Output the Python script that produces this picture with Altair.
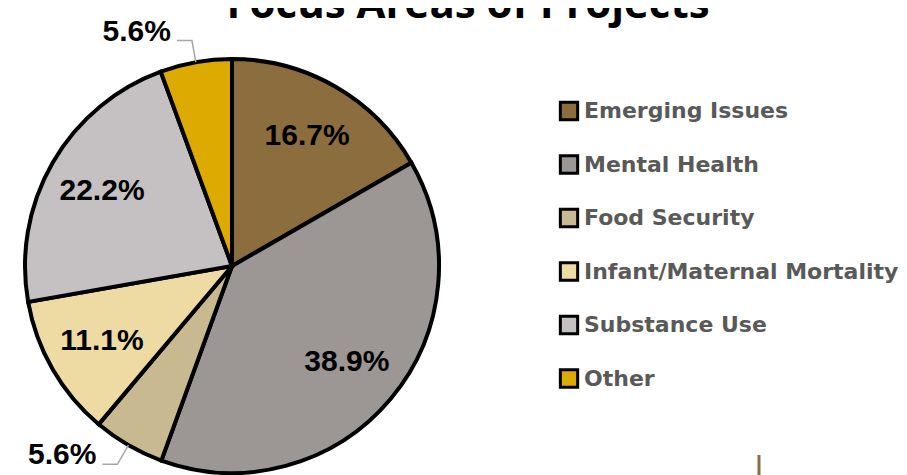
import math
import altair as alt
import pandas as pd

categories = ["Emerging Issues", "Mental Health", "Food Security",
              "Infant/Maternal Mortality", "Substance Use", "Other"]
values = [16.7, 38.9, 5.6, 11.1, 22.2, 5.6]
labels = ["16.7%", "38.9%", "5.6%", "11.1%", "22.2%", "5.6%"]
colors = ["#8B6D3E", "#9C9794", "#C8B990", "#EDDBA3", "#C5C1C2", "#DCAA00"]
title_text = "Focus Areas of Projects"

W, H = 891, 467
CX, CY = 224, 258
R = 207

df = pd.DataFrame({"cat": categories, "val": values, "lab": labels,
                   "idx": list(range(len(values)))})
df["inside"] = df["val"] >= 10

# leader lines for small slices, computed from the values
total = sum(values)
rows_line, rows_out = [], []
cum = 0.0
for c, v, l in zip(categories, values, labels):
    mid = (cum + v / 2) / total * 2 * math.pi
    cum += v
    if v >= 10:
        continue
    sx, sy = CX + R * math.sin(mid), CY - R * math.cos(mid)
    ex, ey = CX + 229 * math.sin(mid), CY - 229 * math.cos(mid)
    d = -1 if math.sin(mid) < 0 else 1
    hx = ex + d * 15
    for k, (px, py) in enumerate([(sx, sy), (ex, ey), (hx, ey)]):
        rows_line.append({"cat": c, "k": k, "px": px, "py": py})
    rows_out.append({"lab": l, "px": hx + d * 6, "py": ey})
lines_df = pd.DataFrame(rows_line)
out_df = pd.DataFrame(rows_out)

color_scale = alt.Scale(domain=categories, range=colors)

base = alt.Chart(df).encode(
    theta=alt.Theta("val:Q", stack=True),
    order=alt.Order("idx:Q"),
)

pie = base.mark_arc(outerRadius=R, stroke="black", strokeWidth=4).encode(
    x=alt.value(CX), y=alt.value(CY),
    color=alt.Color("cat:N", scale=color_scale, sort=categories,
                    legend=alt.Legend(
                        title=None, orient="none", legendX=550, legendY=92,
                        symbolType="square", symbolSize=300,
                        symbolStrokeColor="black", symbolStrokeWidth=3,
                        symbolOpacity=1,
                        labelFont="DejaVu Sans", labelFontSize=22,
                        labelFontWeight="bold", labelColor="#595959",
                        labelOffset=4, rowPadding=23.5, labelLimit=400)),
)

inner = base.mark_text(radius=150, font="Liberation Sans", fontSize=30,
                       fontWeight="bold", color="black").encode(
    x=alt.value(CX), y=alt.value(CY),
    text=alt.Text("lab:N"),
    opacity=alt.condition("datum.inside", alt.value(1), alt.value(0)),
)

leaders = alt.Chart(lines_df).mark_line(color="#A6A6A6", strokeWidth=1.5).encode(
    x=alt.X("px:Q", scale=None, axis=None),
    y=alt.Y("py:Q", scale=None, axis=None),
    detail="cat:N", order="k:Q",
)

outer = alt.Chart(out_df).mark_text(font="Liberation Sans", fontSize=30,
                                    fontWeight="bold", color="black",
                                    align="right", baseline="alphabetic").encode(
    x=alt.X("px:Q", scale=None, axis=None),
    y=alt.Y("py:Q", scale=None, axis=None),
    text="lab:N",
)

title = alt.Chart(pd.DataFrame({"t": [title_text]})).mark_text(
    font="Open Sans", fontSize=42, fontWeight="bold", color="black",
    align="center", baseline="alphabetic").encode(
    x=alt.value(460), y=alt.value(10), text="t:N")

deco = alt.Chart(pd.DataFrame({"a": [0]})).mark_rule(
    color="#8B6D3E", strokeWidth=3).encode(
    x=alt.value(751), y=alt.value(447), y2=alt.value(470))

chart = alt.layer(pie, inner, leaders, outer, title, deco).properties(
    width=W, height=H, padding=0,
    autosize=alt.AutoSizeParams(type="none"),
).configure_view(stroke=None)

chart.save("out.html", embed_options={"renderer": "svg", "actions": False})
